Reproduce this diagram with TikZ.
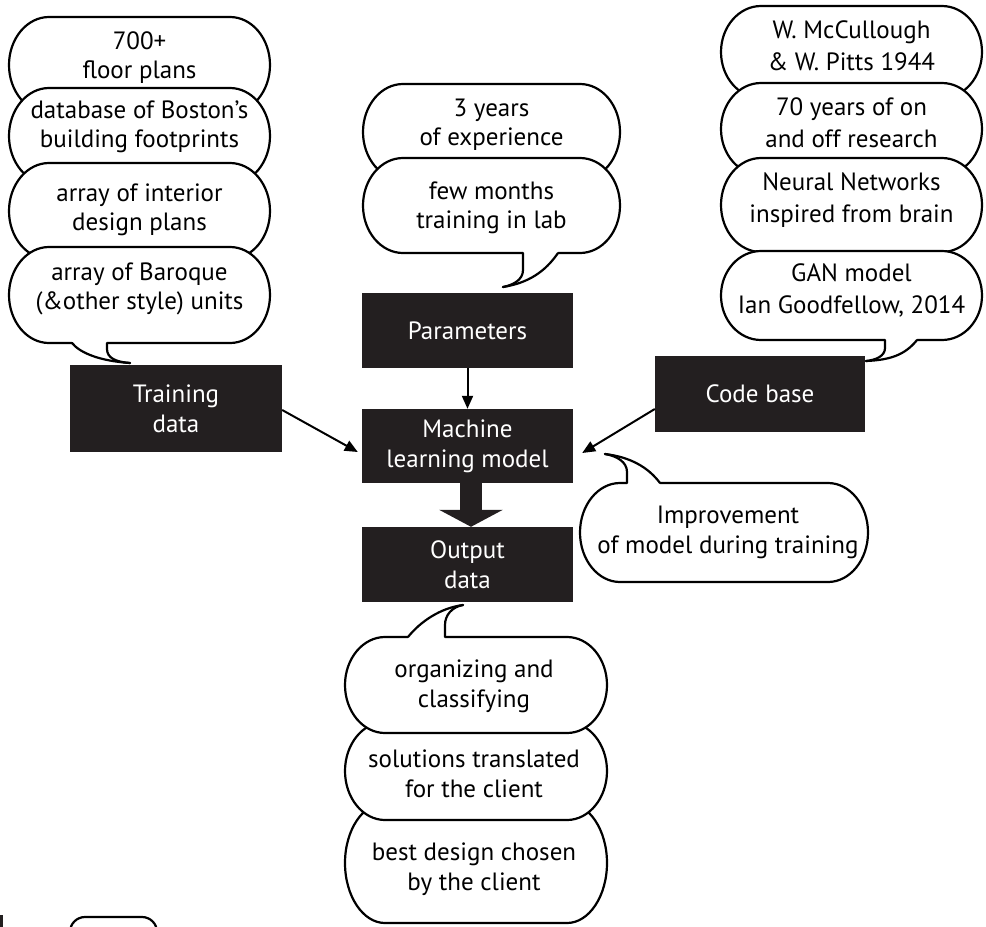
\documentclass[tikz,border=0pt]{standalone}
\usepackage{fontspec}
\setmainfont{PT Sans}
\usetikzlibrary{arrows.meta}
\definecolor{boxdark}{HTML}{231F20}
\newcommand\bubshape[4]{%
  \pgfmathsetmacro\bxa{#1}\pgfmathsetmacro\bya{#2}%
  \pgfmathsetmacro\bxb{#3}\pgfmathsetmacro\byb{#4}%
  \pgfmathsetmacro\bym{(#2+#4)/2}\pgfmathsetmacro\bk{0.552*(#4-#2)/2}%
  \draw[bubble] (\bxa+40,\bya) -- (\bxb-40,\bya)
    .. controls (\bxb-18,\bya) and (\bxb,\bym-\bk) .. (\bxb,\bym)
    .. controls (\bxb,\bym+\bk) and (\bxb-18,\byb) .. (\bxb-40,\byb)
    -- (\bxa+40,\byb)
    .. controls (\bxa+18,\byb) and (\bxa,\bym+\bk) .. (\bxa,\bym)
    .. controls (\bxa,\bym-\bk) and (\bxa+18,\bya) .. (\bxa+40,\bya) -- cycle;}
\begin{document}
\begin{tikzpicture}[x=1pt,y=-1pt,
  font=\fontsize{25}{30}\selectfont,
  txt/.style={anchor=base,align=center,inner sep=0pt},
  sk29/.style={font=\fontsize{25}{29}\selectfont},
  sk31/.style={font=\fontsize{25}{31.5}\selectfont},
  blk/.style={fill=boxdark,text=white,align=center,inner sep=0pt,minimum width=211pt,minimum height=75pt},
  bubble/.style={draw=black,fill=white,line width=2.2pt},
  tailline/.style={draw=black,line width=2.2pt,line cap=round},
  arr/.style={line width=2pt,-{Triangle[length=13pt,width=11pt]}}]
\useasboundingbox (0,0) rectangle (986,927);

% ---- left stack
\bubshape{9}{17}{270}{113}
\bubshape{9}{88}{270}{184}
\bubshape{9}{163}{270}{259}
\bubshape{9}{247}{270}{343}
\fill[white] (72,339) -- (72,343) .. controls (80,353) and (100,361) .. (130,363)
  .. controls (116,362) and (107,358) .. (107,349) -- (107,339) -- cycle;
\draw[tailline] (72,343) .. controls (80,353) and (100,361) .. (130,363);
\draw[tailline] (107,343) -- (107,349) .. controls (107,358) and (116,362) .. (130,363);

% ---- middle stack
\bubshape{363}{84}{620}{180}
\bubshape{363}{158}{620}{253}
\fill[white] (523,249) -- (523,270) .. controls (523,280) and (513,285) .. (503,287)
  .. controls (528,283) and (545,272) .. (558,253) -- (558,249) -- cycle;
\draw[tailline] (523,253) -- (523,270) .. controls (523,280) and (513,285) .. (503,287);
\draw[tailline] (558,253) .. controls (545,272) and (528,283) .. (503,287);

% ---- right stack
\bubshape{721}{6}{982}{98}
\bubshape{721}{83}{982}{175}
\bubshape{721}{158}{982}{252}
\bubshape{721}{251}{982}{340}
\fill[white] (885,336) -- (885,348) .. controls (885,356) and (876,360) .. (866,361)
  .. controls (890,360) and (905,355) .. (917,340) -- (917,336) -- cycle;
\draw[tailline] (885,340) -- (885,348) .. controls (885,356) and (876,360) .. (866,361);
\draw[tailline] (917,340) .. controls (905,355) and (890,360) .. (866,361);

% ---- bottom stack
\bubshape{345}{803}{607}{923}
\bubshape{345}{722}{607}{820}
\bubshape{345}{637}{607}{733}
\fill[white] (408,641) -- (408,637) .. controls (420,622) and (440,608) .. (463,605)
  .. controls (452,607) and (445,615) .. (445,625) -- (445,641) -- cycle;
\draw[tailline] (408,637) .. controls (420,622) and (440,608) .. (463,605);
\draw[tailline] (445,637) -- (445,625) .. controls (445,615) and (452,607) .. (463,605);

% ---- improvement bubble
\bubshape{580}{483}{868}{582}
\fill[white] (627,487) -- (627,472) .. controls (627,462) and (617,456) .. (605,454)
  .. controls (630,457) and (648,467) .. (660,483) -- (660,487) -- cycle;
\draw[tailline] (627,483) -- (627,472) .. controls (627,462) and (617,456) .. (605,454);
\draw[tailline] (660,483) .. controls (648,467) and (630,457) .. (605,454);

% ---- texts (anchor base = baseline of the last line)
\node[txt,sk29] (t1) at (139.5,78) {700+\\floor plans};
\node[txt,sk29] (t2) at (139.5,147) {database of Boston’s\\building footprints};
\node[txt,sk29] (t3) at (139.5,230) {array of interior\\design plans};
\node[txt,sk29] (t4) at (139.5,309) {array of Baroque\\(\&other style) units};
\node[txt,sk29] (m1) at (491.5,145) {3 years\\of experience};
\node[txt,sk29] (m2) at (491.5,228) {few months\\training in lab};
\node[txt,sk31] (r1) at (851.5,70) {W. McCullough\\\&~W. Pitts 1944};
\node[txt,sk31] (r2) at (851.5,147) {70 years of on\\and off research};
\node[txt,sk31] (r3) at (851.5,222) {Neural Networks\\inspired from brain};
\node[txt,sk31] (r4) at (851.5,313) {GAN model\\Ian Goodfellow, 2014};
\node[txt] (o1) at (474,707) {organizing and\\classifying};
\node[txt] (o2) at (474,797) {solutions translated\\for the client};
\node[txt] (o3) at (474,890) {best design chosen\\by the client};
\node[txt] (imp) at (728,553) {Improvement\\of model during training};

% ---- black boxes
\node[blk,minimum width=212pt,minimum height=87pt] (train) at (176,408.5) {Training\\data};
\node[blk] (par) at (467.5,330.5) {Parameters};
\node[blk,minimum height=74pt] (ml) at (467.5,446) {Machine\\learning model};
\node[blk] (out) at (467.5,564.5) {Output\\data};
\node[blk,minimum width=210pt,minimum height=76pt] (code) at (760,393.5) {Code base};

% ---- arrows
\draw[arr] (par) -- (ml);
\draw[arr] ([yshift=-1.5pt]train.east) -- ([xshift=-4pt,yshift=-6pt]ml.west);
\draw[arr] ([yshift=-15.5pt]code.west) -- ([xshift=9pt,yshift=-7pt]ml.east);
\draw[boxdark,line width=22pt,-{Triangle[length=17pt,width=63pt]}] ([xshift=3.5pt]ml.south) -- ([xshift=3.5pt]out.north);

% ---- cropped fragments at the lower left
\begin{scope}
\clip (0,0) rectangle (986,927);
\fill[boxdark] (0,915) rectangle (3,927);
\draw[line width=2.2pt,rounded corners=15pt] (70,960) -- (70,917) -- (157,917) -- (157,960);
\end{scope}
\end{tikzpicture}
\end{document}
